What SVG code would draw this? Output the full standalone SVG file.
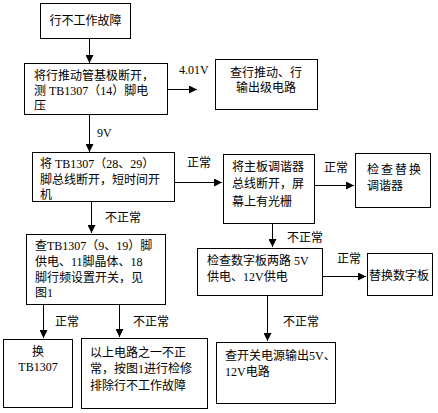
<svg xmlns="http://www.w3.org/2000/svg" width="438" height="413" viewBox="0 0 438 413">
<defs>
<marker id="ah" viewBox="0 0 10 10" refX="10" refY="5" markerWidth="8" markerHeight="8" markerUnits="userSpaceOnUse" orient="auto">
<path d="M0,0 L10,5 L0,10 Z" fill="#000"/>
</marker>
<style>
.box{fill:#fff;stroke:#000;stroke-width:1}
.t{font-family:"Liberation Serif","Noto Sans CJK SC",sans-serif;font-size:12px;fill:#000}
.c{text-anchor:middle}
.lbl{font-family:"Liberation Serif","Noto Sans CJK SC",sans-serif;font-size:12px;fill:#000}
.e{stroke:#000;stroke-width:1;fill:none;marker-end:url(#ah)}
</style>
</defs>
<rect width="438" height="413" fill="#fff"/>
<g id="connectors">
<path class="e" d="M89.5,38 V63"/>
<path class="e" d="M167,89.5 H197"/>
<path class="e" d="M89.5,114 V152"/>
<path class="e" d="M174,182.5 H222"/>
<path class="e" d="M314,185.5 H354"/>
<path class="e" d="M272.5,223 V247"/>
<path class="e" d="M91.5,201 V233"/>
<path class="e" d="M322,276.5 H366"/>
<path class="e" d="M267.5,295 V341"/>
<path class="e" d="M43.5,304 V338"/>
<path class="e" d="M119.5,304 V337"/>
<text class="lbl" x="179" y="74">4.01V</text>
<text class="lbl" x="97" y="137">9V</text>
<text class="lbl" x="187" y="167">正常</text>
<text class="lbl" x="324" y="172">正常</text>
<text class="lbl" x="105" y="222">不正常</text>
<text class="lbl" x="287" y="242">不正常</text>
<text class="lbl" x="337" y="263">正常</text>
<text class="lbl" x="283" y="326">不正常</text>
<text class="lbl" x="55" y="326">正常</text>
<text class="lbl" x="133" y="326">不正常</text>
</g>
<g id="n1"><rect class="box" x="40.5" y="3.5" width="90" height="35"/><text class="t c" x="85.5" y="25">行不工作故障</text></g>
<g id="n2"><rect class="box" x="24.5" y="63.5" width="143" height="51"/>
<text class="t" x="34" y="80">将行推动管基极断开，</text>
<text class="t" x="34" y="95">测 TB1307（14）脚电</text>
<text class="t" x="34" y="110">压</text></g>
<g id="n3"><rect class="box" x="215.5" y="59.5" width="102" height="50"/>
<text class="t c" x="266" y="77">查行推动、行</text>
<text class="t c" x="266" y="92">输出级电路</text></g>
<g id="n4"><rect class="box" x="32.5" y="152.5" width="142" height="49"/>
<text class="t" x="40" y="168">将 TB1307（28、29）</text>
<text class="t" x="40" y="184">脚总线断开，短时间开</text>
<text class="t" x="40" y="199">机</text></g>
<g id="n5"><rect class="box" x="223.5" y="154.5" width="91" height="69"/>
<text class="t" x="232" y="171">将主板调谐器</text>
<text class="t" x="232" y="188">总线断开，屏</text>
<text class="t" x="232" y="206">幕上有光栅</text></g>
<g id="n6"><rect class="box" x="355.5" y="153.5" width="75" height="54"/>
<text class="t" x="367" y="174" letter-spacing="2">检查替换</text>
<text class="t" x="367" y="190">调谐器</text></g>
<g id="n7"><rect class="box" x="197.5" y="248.5" width="125" height="47"/>
<text class="t" x="207" y="265">检查数字板两路 5V</text>
<text class="t" x="207" y="281">供电、12V供电</text></g>
<g id="n8"><rect class="box" x="367.5" y="253.5" width="65" height="42"/>
<text class="t" x="369" y="280">替换数字板</text></g>
<g id="n9"><rect class="box" x="216.5" y="342.5" width="119" height="61"/>
<text class="t" x="225" y="360">查开关电源输出5V、</text>
<text class="t" x="225" y="376">12V电路</text></g>
<g id="n10"><rect class="box" x="26.5" y="234.5" width="139" height="70"/>
<text class="t" x="35" y="250">查TB1307（9、19）脚</text>
<text class="t" x="35" y="266">供电、11脚晶体、18</text>
<text class="t" x="35" y="282">脚行频设置开关，见</text>
<text class="t" x="35" y="297">图1</text></g>
<g id="n11"><rect class="box" x="3.5" y="339.5" width="69" height="68"/>
<text class="t c" x="38" y="356">换</text>
<text class="t c" x="38" y="371">TB1307</text></g>
<g id="n12"><rect class="box" x="81.5" y="338.5" width="126" height="70"/>
<text class="t" x="90" y="357">以上电路之一不正</text>
<text class="t" x="90" y="373">常，按图1进行检修</text>
<text class="t" x="90" y="390">排除行不工作故障</text></g>
</svg>
